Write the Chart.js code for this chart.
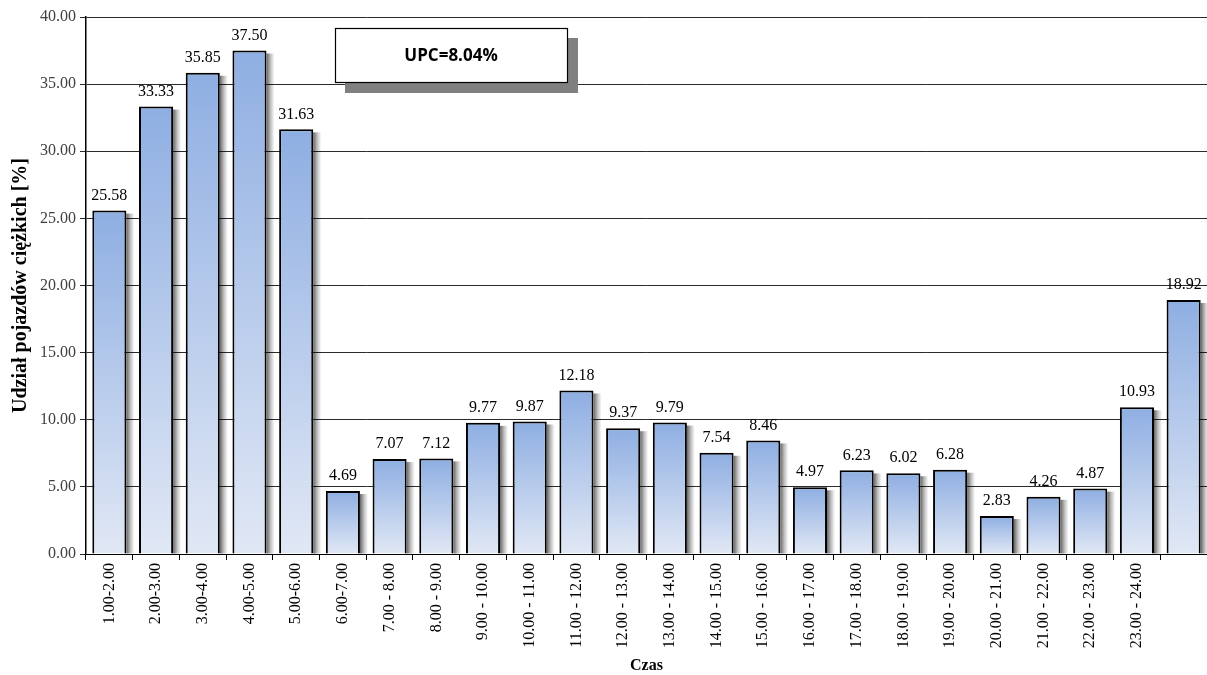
<!DOCTYPE html>
<html>
<head>
<meta charset="utf-8">
<script src="https://cdn.jsdelivr.net/npm/chart.js@4"></script>
<style>
  html, body { margin: 0; padding: 0; background: #fff; }
  #wrap { width: 1207px; height: 675px; }
</style>
</head>
<body>
<div id="wrap"><canvas id="myChart" width="1207" height="675"></canvas></div>
<script>
// hour ranges (last bar has no label in the original)
const hours = ['1.00-2.00', '2.00-3.00', '3.00-4.00', '4.00-5.00', '5.00-6.00', '6.00-7.00',
  '7.00 - 8.00', '8.00 - 9.00', '9.00 - 10.00', '10.00 - 11.00', '11.00 - 12.00', '12.00 - 13.00',
  '13.00 - 14.00', '14.00 - 15.00', '15.00 - 16.00', '16.00 - 17.00', '17.00 - 18.00', '18.00 - 19.00',
  '19.00 - 20.00', '20.00 - 21.00', '21.00 - 22.00', '22.00 - 23.00', '23.00 - 24.00', ''];
const heavyShare = [25.58, 33.33, 35.85, 37.50, 31.63, 4.69, 7.07, 7.12, 9.77, 9.87, 12.18, 9.37,
  9.79, 7.54, 8.46, 4.97, 6.23, 6.02, 6.28, 2.83, 4.26, 4.87, 10.93, 18.92];
const upcText = 'UPC=8.04%';

const serif = '"Liberation Serif", "Times New Roman", serif';

// bar gradient, dark at the top of each bar
function barFill(context) {
  const chart = context.chart;
  if (!chart.chartArea) return '#a8c0e8';
  const y = chart.scales.y;
  const top = y.getPixelForValue(context.raw);
  const bottom = y.getPixelForValue(0);
  const g = chart.ctx.createLinearGradient(0, top, 0, bottom);
  g.addColorStop(0, '#8eaee2');
  g.addColorStop(1, '#e1e8f5');
  return g;
}

const barShadow = {
  id: 'barShadow',
  beforeDatasetsDraw(chart) {
    // soft shadow strip to the right of every bar
    const ctx = chart.ctx;
    const meta = chart.getDatasetMeta(0);
    ctx.save();
    meta.data.forEach((bar) => {
      const right = bar.x + bar.width / 2;
      const g = ctx.createLinearGradient(right, 0, right + 8, 0);
      g.addColorStop(0, 'rgba(0,0,0,0.6)');
      g.addColorStop(0.5, 'rgba(0,0,0,0.25)');
      g.addColorStop(1, 'rgba(0,0,0,0)');
      ctx.fillStyle = g;
      ctx.fillRect(right, bar.y + 3, 8, bar.base - bar.y - 3);
    });
    ctx.restore();
  },
  afterDatasetsDraw(chart) {
    const ctx = chart.ctx;
    // value labels above bars
    const meta = chart.getDatasetMeta(0);
    ctx.save();
    ctx.font = '16px ' + serif;
    ctx.fillStyle = '#000';
    ctx.textAlign = 'center';
    ctx.textBaseline = 'bottom';
    meta.data.forEach((bar, i) => {
      ctx.fillText(heavyShare[i].toFixed(2), bar.x, bar.y - 7);
    });
    ctx.restore();
  }
};

const upcBox = {
  id: 'upcBox',
  afterDraw(chart) {
    const ctx = chart.ctx;
    ctx.save();
    ctx.fillStyle = '#808080';
    ctx.fillRect(345, 38, 233, 55);
    ctx.fillStyle = '#fff';
    ctx.fillRect(335, 28, 233, 55);
    ctx.strokeStyle = '#000';
    ctx.lineWidth = 1.2;
    ctx.strokeRect(335.5, 28.5, 232, 54);
    ctx.fillStyle = '#000';
    ctx.font = 'bold 17px "Open Sans", "Liberation Sans", sans-serif';
    ctx.textAlign = 'center';
    ctx.textBaseline = 'middle';
    ctx.fillText(upcText, 451, 56);
    ctx.restore();
  }
};

const ctx = document.getElementById('myChart');
new Chart(ctx, {
  type: 'bar',
  data: {
    labels: hours,
    datasets: [{
      data: heavyShare,
      backgroundColor: barFill,
      borderColor: '#000',
      borderWidth: 2,
      barPercentage: 0.73,
      categoryPercentage: 1
    }]
  },
  options: {
    responsive: false,
    animation: false,
    layout: { padding: { top: 17, right: 0, left: 0, bottom: 0 } },
    plugins: {
      legend: { display: false },
      tooltip: { enabled: false }
    },
    scales: {
      x: {
        afterFit: (s) => { s.height = 121; },
        grid: { drawOnChartArea: false, color: '#000', tickLength: 6, offset: true },
        border: { color: '#000', width: 1 },
        ticks: {
          autoSkip: false,
          minRotation: 90,
          maxRotation: 90,
          color: '#000',
          font: { family: serif, size: 16 },
          padding: 3
        },
        title: {
          display: true,
          text: 'Czas',
          color: '#000',
          font: { family: serif, size: 16, weight: 'bold' },
          padding: { top: 3, bottom: 0 }
        }
      },
      y: {
        min: 0,
        max: 40,
        afterFit: (s) => { s.width = 86; },
        grid: { color: '#2a2a2a', lineWidth: 1, tickLength: 6 },
        border: { color: '#000', width: 1.5 },
        ticks: {
          stepSize: 5,
          color: '#404040',
          font: { family: serif, size: 16 },
          padding: 4,
          callback: (v) => v.toFixed(2)
        },
        title: {
          display: true,
          text: 'Udział pojazdów ciężkich [%]',
          color: '#000',
          font: { family: serif, size: 20, weight: 'bold' },
          padding: { top: 9, bottom: 0 }
        }
      }
    }
  },
  plugins: [barShadow, upcBox]
});
</script>
</body>
</html>
